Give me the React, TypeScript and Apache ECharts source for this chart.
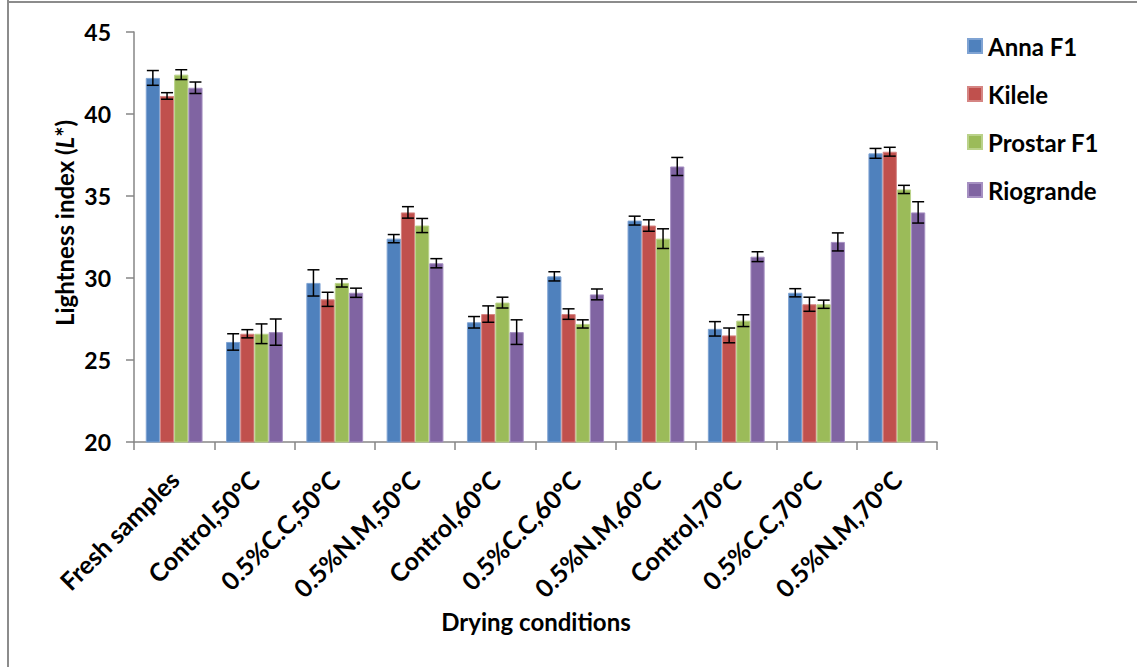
import React, { useEffect, useRef } from "react";
import * as echarts from "echarts";

// Drying conditions (x categories)
const categories = [
  "Fresh samples",
  "Control,50°C",
  "0.5%C.C,50°C",
  "0.5%N.M,50°C",
  "Control,60°C",
  "0.5%C.C,60°C",
  "0.5%N.M,60°C",
  "Control,70°C",
  "0.5%C.C,70°C",
  "0.5%N.M,70°C",
];

const varieties = ["Anna F1", "Kilele", "Prostar F1", "Riogrande"];

// Mean lightness L* per variety
const annaF1 = [42.2, 26.1, 29.7, 32.4, 27.3, 30.1, 33.5, 26.9, 29.1, 37.6];
const kilele = [41.1, 26.6, 28.7, 34.0, 27.8, 27.8, 33.2, 26.5, 28.4, 37.7];
const prostarF1 = [42.4, 26.6, 29.7, 33.2, 28.5, 27.2, 32.4, 27.4, 28.4, 35.4];
const riogrande = [41.6, 26.7, 29.1, 30.9, 26.7, 29.0, 36.8, 31.3, 32.2, 34.0];

// Standard errors (half length of each error bar)
const annaF1Err = [0.45, 0.5, 0.8, 0.25, 0.35, 0.28, 0.27, 0.44, 0.25, 0.3];
const kileleErr = [0.2, 0.25, 0.43, 0.35, 0.5, 0.32, 0.35, 0.45, 0.43, 0.27];
const prostarF1Err = [0.3, 0.6, 0.25, 0.43, 0.33, 0.25, 0.6, 0.36, 0.25, 0.25];
const riograndeErr = [0.35, 0.8, 0.28, 0.28, 0.75, 0.33, 0.55, 0.3, 0.55, 0.65];

const yTicks = { min: 20, max: 45, interval: 5 };

const colors = ["#4F81BD", "#C0504D", "#9BBB59", "#8064A2"];
const edgeColors = ["#7FA3D3", "#D58583", "#BAD28A", "#A690C2"];

const BAR_W = 14.2;
const CAP = 6;
const FONT = "Lato, 'Open Sans', 'DejaVu Sans', sans-serif";

export default function App() {
  const ref = useRef<HTMLDivElement>(null);

  useEffect(() => {
    if (!ref.current) return;
    const chart = echarts.init(ref.current, null, { renderer: "svg" });
    const values = [annaF1, kilele, prostarF1, riogrande];
    const errors = [annaF1Err, kileleErr, prostarF1Err, riograndeErr];

    const barSeries = varieties.map((name, i) => ({
      type: "bar",
      name,
      data: values[i],
      barWidth: BAR_W,
      barGap: "0%",
      itemStyle: { color: colors[i], borderColor: edgeColors[i], borderWidth: 1 },
      emphasis: { disabled: true },
    }));

    const errorSeries = varieties.map((name, i) => ({
      type: "custom",
      name: name + " SE",
      data: values[i].map((v, k) => [k, v - errors[i][k], v + errors[i][k]]),
      encode: { x: 0, y: [1, 2] },
      z: 10,
      silent: true,
      renderItem: (_params: any, api: any) => {
        const k = api.value(0);
        const lo = api.coord([k, api.value(1)]);
        const hi = api.coord([k, api.value(2)]);
        const x = lo[0] + (i - 1.5) * BAR_W;
        const style = { stroke: "#000", lineWidth: 1.5 };
        return {
          type: "group",
          children: [
            { type: "line", shape: { x1: x, y1: lo[1], x2: x, y2: hi[1] }, style },
            { type: "line", shape: { x1: x - CAP, y1: hi[1], x2: x + CAP, y2: hi[1] }, style },
            { type: "line", shape: { x1: x - CAP, y1: lo[1], x2: x + CAP, y2: lo[1] }, style },
          ],
        };
      },
    }));

    chart.setOption({
      animation: false,
      backgroundColor: "#ffffff",
      textStyle: { fontFamily: FONT },
      grid: { left: 134, right: 200, top: 32, bottom: 225, containLabel: false },
      legend: {
        data: varieties,
        orient: "vertical",
        left: 962,
        top: 29,
        icon: "rect",
        itemWidth: 14,
        itemHeight: 14,
        itemGap: 24,
        selectedMode: false,
        textStyle: {
          fontFamily: FONT,
          fontSize: 24,
          fontWeight: "bold",
          color: "#000",
          lineHeight: 24,
          padding: [0, 0, 0, 1],
        },
      },
      xAxis: {
        type: "category",
        data: categories,
        boundaryGap: true,
        axisLine: { show: true, lineStyle: { color: "#868686", width: 1.5 } },
        axisTick: { show: true, length: 8, interval: 0, lineStyle: { color: "#868686", width: 1.5 } },
        axisLabel: {
          interval: 0,
          rotate: 45,
          margin: 33,
          fontFamily: FONT,
          fontSize: 25,
          fontWeight: "bold",
          color: "#000",
        },
        splitLine: { show: false },
      },
      yAxis: {
        type: "value",
        min: yTicks.min,
        max: yTicks.max,
        interval: yTicks.interval,
        axisLine: { show: true, lineStyle: { color: "#868686", width: 1.5 } },
        axisTick: { show: true, length: 8, lineStyle: { color: "#868686", width: 1.5 } },
        axisLabel: {
          margin: 23,
          fontFamily: FONT,
          fontSize: 23,
          fontWeight: "bold",
          color: "#000",
        },
        splitLine: { show: false },
      },
      graphic: [
        // frame edges
        { type: "rect", left: 7, top: 0, shape: { width: 2, height: 667 }, style: { fill: "#8c8c8c" } },
        { type: "rect", left: 7, top: 1, shape: { width: 1130, height: 2 }, style: { fill: "#8c8c8c" } },
        {
          type: "text",
          x: 64,
          y: 223,
          rotation: Math.PI / 2,
          style: {
            text: "{b|Lightness index (}{i|L}{b|*)}",
            align: "center",
            verticalAlign: "middle",
            rich: {
              b: { fontFamily: FONT, fontSize: 24, fontWeight: "bold", fill: "#000" },
              i: { fontFamily: FONT, fontSize: 24, fontWeight: "bold", fontStyle: "italic", fill: "#000" },
            },
          },
        },
        {
          type: "text",
          x: 536,
          y: 621,
          style: {
            text: "Drying conditions",
            align: "center",
            verticalAlign: "middle",
            fontFamily: FONT,
            fontSize: 24,
            fontWeight: "bold",
            fill: "#000",
          },
        },
      ],
      series: [...barSeries, ...errorSeries],
    });

    return () => chart.dispose();
  }, []);

  return (
    <div
      ref={ref}
      style={{ position: "fixed", left: 0, top: 0, width: 1137, height: 667, background: "#fff" }}
    />
  );
}
